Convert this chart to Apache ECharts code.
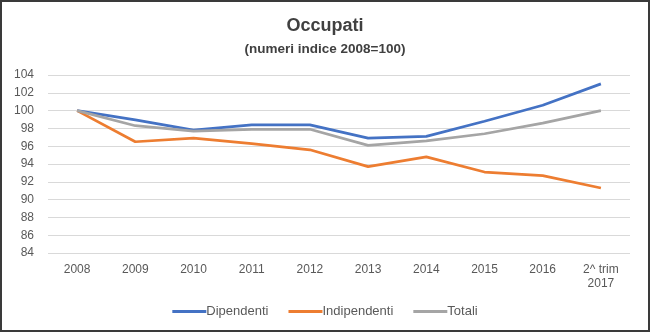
<!DOCTYPE html>
<html>
<head>
<meta charset="utf-8">
<script src="https://cdn.jsdelivr.net/npm/echarts@6/dist/echarts.min.js"></script>
<style>
  html, body { margin: 0; padding: 0; background: #fff; }
  #frame { position: absolute; left: 0; top: 0; width: 646px; height: 328px; border: 2px solid #3a3a3a; }
  #chart { position: absolute; left: -2px; top: -2px; width: 650px; height: 332px; }
</style>
</head>
<body>
<div id="frame"><div id="chart"></div></div>
<script>
// Occupati – numeri indice (2008 = 100)
const categories = ['2008', '2009', '2010', '2011', '2012', '2013', '2014', '2015', '2016', '2^ trim\n2017'];
const dipendenti = [100, 98.95, 97.8, 98.4, 98.4, 96.9, 97.1, 98.8, 100.6, 103.0];
const indipendenti = [100, 96.5, 96.9, 96.3, 95.6, 93.7, 94.8, 93.1, 92.7, 91.3];
const totali = [100, 98.3, 97.7, 97.9, 97.9, 96.1, 96.6, 97.4, 98.6, 100.0];

const font = 'Liberation Sans, Arial, sans-serif';
const chart = echarts.init(document.getElementById('chart'));

const line = (name, data, color) => ({
  name, type: 'line', data,
  symbol: 'none',
  lineStyle: { width: 2.75, color },
  itemStyle: { color }
});

chart.setOption({
  backgroundColor: 'transparent',
  animation: false,
  title: {
    text: 'Occupati',
    subtext: '(numeri indice 2008=100)',
    left: 'center', top: 12,
    itemGap: 7,
    textStyle: { fontFamily: font, fontSize: 18, fontWeight: 'bold', color: '#404040' },
    subtextStyle: { fontFamily: font, fontSize: 13.5, fontWeight: 'bold', color: '#404040' }
  },
  legend: {
    bottom: 9, left: 'center',
    itemWidth: 34, itemHeight: 3, itemGap: 20,
    icon: 'rect',
    textStyle: { fontFamily: font, fontSize: 13, color: '#595959', padding: [0, 0, 0, -5] },
    data: ['Dipendenti', 'Indipendenti', 'Totali']
  },
  grid: { left: 48, right: 20, top: 75, bottom: 79 },
  xAxis: {
    type: 'category',
    data: categories,
    boundaryGap: true,
    axisLine: { show: false },
    axisTick: { show: false },
    axisLabel: { fontFamily: font, fontSize: 12, color: '#595959', margin: 10, lineHeight: 14 }
  },
  yAxis: {
    type: 'value',
    min: 84, max: 104, interval: 2,
    axisLine: { show: false },
    axisTick: { show: false },
    splitLine: { lineStyle: { color: '#d9d9d9', width: 1 } },
    axisLabel: { fontFamily: font, fontSize: 12, color: '#595959', margin: 14 }
  },
  series: [
    line('Dipendenti', dipendenti, '#4472C4'),
    line('Indipendenti', indipendenti, '#ED7D31'),
    line('Totali', totali, '#A5A5A5')
  ]
});
</script>
</body>
</html>
